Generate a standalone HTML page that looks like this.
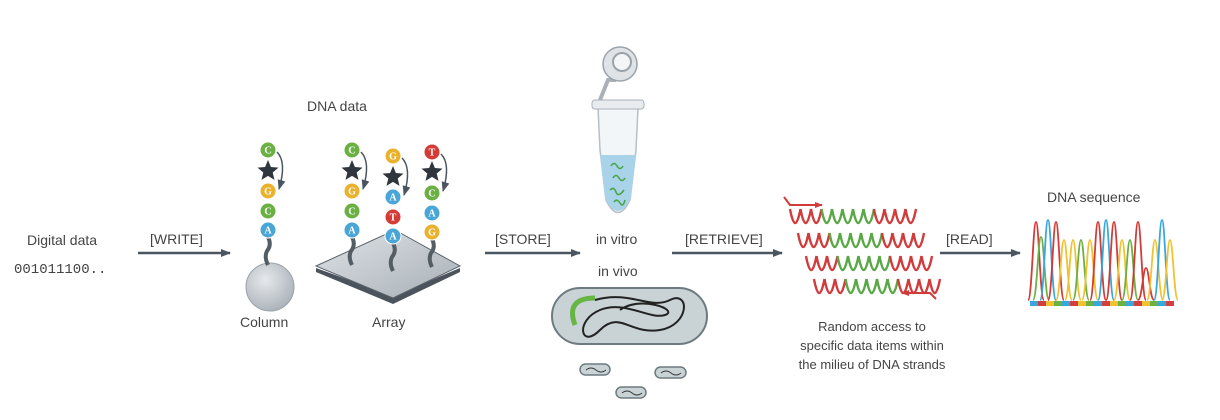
<!DOCTYPE html>
<html><head><meta charset="utf-8"><style>
html,body{margin:0;padding:0;background:#fff}
svg{display:block}
text{font-family:"Liberation Sans",sans-serif;fill:#444}
</style></head><body>
<svg id="s" width="1220" height="420" viewBox="0 0 1220 420" xmlns="http://www.w3.org/2000/svg">
<defs>
<radialGradient id="ball" cx="0.4" cy="0.35" r="0.7"><stop offset="0" stop-color="#e6e9ec"/><stop offset="1" stop-color="#a9b1b8"/></radialGradient>
<linearGradient id="plate" x1="0" y1="0" x2="1" y2="1"><stop offset="0" stop-color="#dfe3e7"/><stop offset="1" stop-color="#a7afb6"/></linearGradient>
<marker id="ah" markerWidth="10" markerHeight="8" refX="9" refY="4" orient="auto" markerUnits="userSpaceOnUse"><path d="M0,0 L10,4 L0,8 Z" fill="#4a5560"/></marker>
<marker id="ahr" markerWidth="8" markerHeight="6" refX="7" refY="3" orient="auto" markerUnits="userSpaceOnUse"><path d="M0,0 L8,3 L0,6 Z" fill="#d23b3b"/></marker>
</defs>
<g font-size="14">
<text x="27" y="245">Digital data</text>
<text x="14" y="273" font-size="14" style="font-family:'Liberation Mono',monospace">001011100..</text>
<text x="150" y="244">[WRITE]</text>
<text x="307" y="111">DNA data</text>
<text x="240" y="327">Column</text>
<text x="372" y="327">Array</text>
<text x="495" y="244">[STORE]</text>
<text x="596" y="244">in vitro</text>
<text x="598" y="276">in vivo</text>
<text x="685" y="244">[RETRIEVE]</text>
<text x="946" y="244">[READ]</text>
<text x="1047" y="202">DNA sequence</text>
</g>
<g font-size="13" text-anchor="middle">
<text x="872" y="331">Random access to</text>
<text x="872" y="350">specific data items within</text>
<text x="872" y="369">the milieu of DNA strands</text>
</g>
<g stroke="#4a5560" stroke-width="2.5" marker-end="url(#ah)">
<line x1="138" y1="253" x2="230" y2="253"/>
<line x1="485" y1="253" x2="580" y2="253"/>
<line x1="672" y1="253" x2="782" y2="253"/>
<line x1="940" y1="253" x2="1020" y2="253"/>
</g>
<circle cx="270" cy="287" r="24" fill="url(#ball)" stroke="#9aa3aa"/>
<path d="M316,268 L393,296 L460,268 L460,272 L393,304 L316,272 Z" fill="#4b545c"/>
<path d="M316,266 L395,230 L460,266 L393,298 Z" fill="url(#plate)" stroke="#5a636b" stroke-width="1"/>
<g id="beads"></g>
<path d="M598,108 L638,108 L636,150 L630,200 Q618,225 606,200 L600,150 Z" fill="#f3f6f8" stroke="#b8c0c6" stroke-width="1.5"/>
<path d="M600,155 L636,155 L631,198 Q618,224 605,198 Z" fill="#a9d3e8"/>
<rect x="592" y="100" width="52" height="9" rx="3" fill="#e8ecef" stroke="#aab2b8"/>
<path d="M600,100 L608,80 L616,80" fill="none" stroke="#aab2b8" stroke-width="4"/>
<circle cx="620" cy="64" r="17" fill="#dfe3e6" stroke="#9aa3aa" stroke-width="1.5"/>
<circle cx="622" cy="62" r="9" fill="#f3f5f7" stroke="#9aa3aa" stroke-width="2"/>
<g stroke="#4aa54a" stroke-width="1.6" fill="none">
<path d="M611,166 q3,-5 6,0 t6,0"/><path d="M613,178 q3,-5 6,0 t6,0"/><path d="M610,190 q4,-4 6,2 t8,-2"/><path d="M614,202 q3,-4 6,1 t5,-3"/>
</g>
<rect x="552" y="288" width="155" height="56" rx="28" fill="#c9d3d6" stroke="#6d7b80" stroke-width="2"/>
<path d="M575,325 Q565,298 595,298" fill="none" stroke="#66b545" stroke-width="5"/>
<path d="M595,300 C630,290 650,310 670,300 S690,325 660,330 S620,310 600,330 S575,320 600,310 S650,320 665,315 S640,295 620,310" fill="none" stroke="#222" stroke-width="2"/>
<g fill="#c9d3d6" stroke="#6d7b80" stroke-width="1.5">
<rect x="580" y="364" width="30" height="11" rx="5.5"/><rect x="655" y="367" width="31" height="11" rx="5.5"/><rect x="616" y="387" width="30" height="11" rx="5.5"/>
</g>
<g stroke="#333" stroke-width="1" fill="none"><path d="M586,370 q5,-4 10,0 t10,0"/><path d="M661,373 q5,-4 10,0 t10,0"/><path d="M622,393 q5,-4 10,0 t10,0"/></g>
<g id="strands" fill="none" stroke-width="2.4"></g>
<path d="M784,197 L790,205 L822,205" fill="none" stroke="#d23b3b" stroke-width="2" marker-end="url(#ahr)"/>
<path d="M936,299 L930,293 L902,293" fill="none" stroke="#d23b3b" stroke-width="2" marker-end="url(#ahr)"/>
<g id="bar"></g>
<g id="peaks" fill="none" stroke-width="1.8"></g>
</svg>
<script>
var NS="http://www.w3.org/2000/svg";
function el(p,t,a){var e=document.createElementNS(NS,t);for(var k in a)e.setAttribute(k,a[k]);p.appendChild(e);return e;}
var col={C:"#6bb043",G:"#eab12c",A:"#4aa6d6",T:"#d33b37"};
var B=document.getElementById("beads");
function star(x,y,r){var d="";for(var i=0;i<10;i++){var a=-Math.PI/2+i*Math.PI/5,rr=i%2?r*0.45:r;d+=(i?"L":"M")+(x+rr*Math.cos(a)).toFixed(1)+","+(y+rr*Math.sin(a)).toFixed(1);}el(B,"path",{d:d+"Z",fill:"#2f363d"});}
function column(x,items,ys){
 el(B,"path",{d:"M"+x+","+(ys[ys.length-1]+7)+" q4,8 -1,14 q-3,6 1,14",stroke:"#555d64","stroke-width":4,fill:"none"});
 el(B,"path",{d:"M"+(x+9)+","+(ys[0]+2)+" q10,10 2,"+(ys[2]-ys[0]-4),stroke:"#4a5560","stroke-width":1.5,fill:"none","marker-end":"url(#ah)"});
 items.forEach(function(c,i){var y=ys[i];if(c=="*")star(x,y,11);else{el(B,"circle",{cx:x,cy:y,r:8,fill:col[c],stroke:"#fff","stroke-width":1});var t=el(B,"text",{x:x,y:y+3.5,"text-anchor":"middle","font-size":10,"font-weight":"bold",style:"fill:#fff;font-family:'Liberation Serif',serif"});t.textContent=c;}});
}
column(268,["C","*","G","C","A"],[150,171,191,211,230]);
column(352,["C","*","G","C","A"],[150,171,191,211,230]);
column(393,["G","*","A","T","A"],[156,177,197,217,236]);
column(432,["T","*","C","A","G"],[152,172,193,213,232]);
var S=document.getElementById("strands");
var rows=[[790,216],[798,240],[806,263],[814,286]];
rows.forEach(function(r){for(var i=0;i<12;i++){var x=r[0]+i*10.5,y=r[1];var g=(i>=3&&i<8);var c=g?"#5aa845":"#d23b3b";el(S,"path",{d:"M"+x+","+(y-7)+" q2.6,14 5.2,14 q2.6,0 5.3,-14",stroke:c});}});
var P=document.getElementById("peaks");
var pc={r:"#d33b37",b:"#3aa7dc",y:"#f0c232",g:"#6db043"};
var pk=[[1036,"r",222],[1041,"g",237],[1048,"b",220],[1056,"r",222],[1064,"y",240],[1073,"y",240],[1081,"g",240],[1090,"y",240],[1098,"r",222],[1106,"b",220],[1114,"r",222],[1122,"y",240],[1130,"g",240],[1138,"r",222],[1146,"r",268],[1155,"y",240],[1162,"b",220],[1170,"y",240]];
pk.forEach(function(p){var x=p[0],h=p[2];el(P,"path",{d:"M"+(x-8)+",300 C"+(x-4)+",300 "+(x-3)+","+h+" "+x+","+h+" C"+(x+3)+","+h+" "+(x+4)+",300 "+(x+8)+",300",stroke:pc[p[1]]});});
var R=document.getElementById("bar");var bc=["#d04040","#3aa7dc","#6db043","#f0c232"];
for(var i=0;i<18;i++)el(R,"rect",{x:1030+i*8,y:301,width:8,height:5,fill:bc[(i*3+1)%4]});
</script>
</body></html>
